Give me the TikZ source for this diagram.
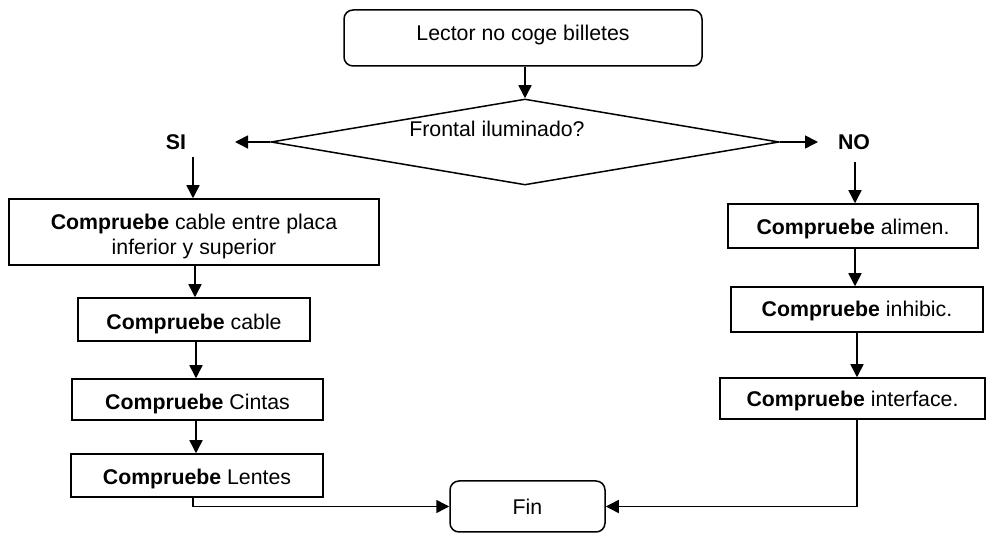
\documentclass[tikz,border=0pt]{standalone}
\usepackage{fontspec}
\setmainfont{Liberation Sans}
\usetikzlibrary{arrows.meta,shapes.geometric}
\newcommand{\lowered}[2]{\raisebox{-#1}[\height][\depth]{#2}}
\begin{document}
\begin{tikzpicture}[x=1pt,y=-1pt,
  every node/.style={font=\fontsize{21.3}{25}\selectfont},
  box/.style={draw,line width=1.5pt,inner sep=0pt,align=center},
  rbox/.style={box,rounded corners=9pt},
  dec/.style={draw,line width=1.5pt,diamond,inner sep=0pt,minimum width=508pt,minimum height=86pt,shape aspect=5.9},
  lbl/.style={font=\fontsize{21.3}{25}\selectfont\bfseries},
  arr/.style={line width=1.5pt,-{Triangle[length=13pt,width=13pt]}},
  ln/.style={line width=1.5pt}]
\useasboundingbox (0,0) rectangle (986,534);
% nodes
\node[rbox,minimum width=358pt,minimum height=56pt] (top) at (523,38) {\lowered{-3pt}{Lector no coge billetes}};
\node[dec] (dia) at (525,142) {};
\node (diatxt) at (497,129) {Frontal iluminado?};
\node[lbl] (si) at (176,142) {SI};
\node[lbl] (no) at (854,142) {NO};
\coordinate (siend) at (235,142);
\coordinate (noend) at (818,142);
\coordinate (sistart) at (193,157);
\coordinate (nostart) at (855,162);
\node[box,minimum width=370pt,minimum height=66pt] (b1) at (194,232) {\lowered{4.5pt}{\parbox{360pt}{\centering\textbf{Compruebe} cable entre placa\\inferior y superior}}};
\node[box,minimum width=232pt,minimum height=43pt] (b2) at (194,319.5) {\lowered{4pt}{\textbf{Compruebe} cable}};
\node[box,minimum width=251pt,minimum height=41pt] (b3) at (197.5,399.5) {\lowered{4pt}{\textbf{Compruebe} Cintas}};
\node[box,minimum width=252pt,minimum height=43pt] (b4) at (197,475.5) {\lowered{3pt}{\textbf{Compruebe} Lentes}};
\node[box,minimum width=250pt,minimum height=44pt] (r1) at (853,226) {\lowered{2.5pt}{\textbf{Compruebe} alimen.}};
\node[box,minimum width=252pt,minimum height=45pt] (r2) at (857,309.5) {\lowered{1pt}{\textbf{Compruebe} inhibic.}};
\node[box,minimum width=265pt,minimum height=41pt] (r3) at (852.5,398.5) {\lowered{2pt}{\textbf{Compruebe} interface.}};
\node[rbox,minimum width=155pt,minimum height=51pt] (fin) at (527.5,506.5) {Fin};
% connectors
\draw[arr] (dia.north |- top.south) -- (dia.north);
\draw[arr] (dia.west) -- (siend);
\draw[arr] (dia.east) -- (noend);
\draw[arr] (sistart) -- (sistart |- b1.north);
\draw[arr] (nostart) -- (nostart |- r1.north);
\draw[arr] ([xshift=1pt]b1.south) -- ([xshift=1pt]b1.south |- b2.north);
\draw[arr] ([xshift=-1.5pt]b3.north |- b2.south) -- ([xshift=-1.5pt]b3.north);
\draw[arr] ([xshift=-1.5pt]b3.south) -- ([xshift=-1.5pt]b3.south |- b4.north);
\draw[arr] ([xshift=2pt]r1.south) -- ([xshift=2pt]r1.south |- r2.north);
\draw[arr] (r2.south) -- (r2.south |- r3.north);
\draw[arr] ([xshift=-4pt]b4.south) |- (fin.west);
\draw[arr] ([xshift=4.5pt]r3.south) |- (fin.east);
\end{tikzpicture}
\end{document}
